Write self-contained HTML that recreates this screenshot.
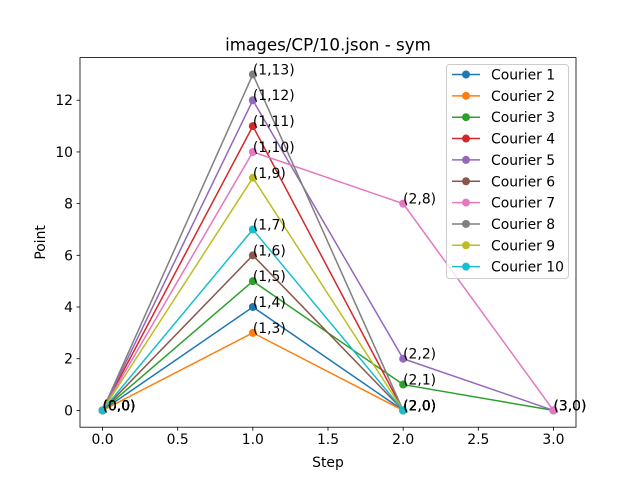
<!DOCTYPE html>
<html><head><meta charset="utf-8"><style>
body{margin:0;background:#fff}
svg text{font-family:"DejaVu Sans","Liberation Sans",sans-serif;fill:#000}
</style></head><body>
<svg id="chart" width="640" height="480" xmlns="http://www.w3.org/2000/svg">
<rect width="640" height="480" fill="#fff"/>
<g id="plot"></g>
</svg>
<script>
const courierNames=["Courier 1","Courier 2","Courier 3","Courier 4","Courier 5","Courier 6","Courier 7","Courier 8","Courier 9","Courier 10"];
const courierSteps=[[0,1,2],[0,1,2],[0,1,2,3],[0,1,2],[0,1,2,3],[0,1,2],[0,1,2,3],[0,1,2],[0,1,2],[0,1,2]];
const courierPoints=[[0,4,0],[0,3,0],[0,5,1,0],[0,11,0],[0,12,2,0],[0,6,0],[0,10,8,0],[0,13,0],[0,9,0],[0,7,0]];
const colors=["#1f77b4","#ff7f0e","#2ca02c","#d62728","#9467bd","#8c564b","#e377c2","#7f7f7f","#bcbd22","#17becf"];
const xTicks=[0,0.5,1,1.5,2,2.5,3];
const xTickLabels=["0.0","0.5","1.0","1.5","2.0","2.5","3.0"];
const yTicks=[0,2,4,6,8,10,12];
const L=80,R=576,T=57.6,B=427.2;
const xMin=-0.15,xMax=3.15,yMin=-0.65,yMax=13.65;
const xs=v=>L+(v-xMin)/(xMax-xMin)*(R-L);
const ys=v=>B-(v-yMin)/(yMax-yMin)*(B-T);
const NS="http://www.w3.org/2000/svg";
const g=document.getElementById('plot');
function mk(t,a,p){const e=document.createElementNS(NS,t);for(const k in a)e.setAttribute(k,a[k]);(p||g).appendChild(e);return e;}
// ticks
xTicks.forEach((v,i)=>{
 mk('line',{x1:xs(v),x2:xs(v),y1:B,y2:B+3.5,stroke:'#000','stroke-width':0.8});
 const t=mk('text',{x:xs(v),y:B+17,'text-anchor':'middle','font-size':13.9});t.textContent=xTickLabels[i];
 
 
});
yTicks.forEach(v=>{
 mk('line',{x1:L-3.5,x2:L,y1:ys(v),y2:ys(v),stroke:'#000','stroke-width':0.8});
 const t=mk('text',{x:L-7,y:ys(v)+5,'text-anchor':'end','font-size':13.9});t.textContent=v;
 
 
});
// series
courierPoints.forEach((pts,i)=>{
 const sg=mk('g',{});
 
 
 mk('polyline',{points:pts.map((p,j)=>xs(courierSteps[i][j])+','+ys(p)).join(' '),fill:'none',stroke:colors[i],'stroke-width':1.5},sg);
 pts.forEach((p,j)=>{const c=mk('circle',{cx:xs(courierSteps[i][j]),cy:ys(p),r:4,fill:colors[i]},sg);
  
  });
});
courierPoints.forEach((pts,i)=>{
 pts.forEach((p,j)=>{const s=courierSteps[i][j];
  const t=mk('text',{x:xs(s),y:ys(p),'font-size':13.9});t.textContent='('+s+','+p+')';
  
  });
});
// frame
mk('rect',{x:L,y:T,width:R-L,height:B-T,fill:'none',stroke:'#000','stroke-width':0.8});
let t=mk('text',{x:(L+R)/2,y:T-7,'text-anchor':'middle','font-size':16.7});t.textContent='images/CP/10.json - sym';

t=mk('text',{x:(L+R)/2,y:467,'text-anchor':'middle','font-size':13.9});t.textContent='Step';

t=mk('text',{x:45,y:(T+B)/2,'text-anchor':'middle','font-size':13.9,transform:'rotate(-90 45 '+((T+B)/2)+')'});t.textContent='Point';

// legend
const lg=mk('g',{});


mk('rect',{x:446.5,y:64.5,width:122,height:214,rx:3,fill:'#fff','fill-opacity':0.8,stroke:'#ccc'},lg);
courierNames.forEach((n,i)=>{const y=74.5+i*21.35;
 const e=mk('g',{},lg);
 
 
 mk('line',{x1:452,x2:480,y1:y,y2:y,stroke:colors[i],'stroke-width':1.5},e);
 mk('circle',{cx:466,cy:y,r:4,fill:colors[i]},e);
 const tt=mk('text',{x:491,y:y+5,'font-size':13.9},e);tt.textContent=n;});
</script>
</body></html>
